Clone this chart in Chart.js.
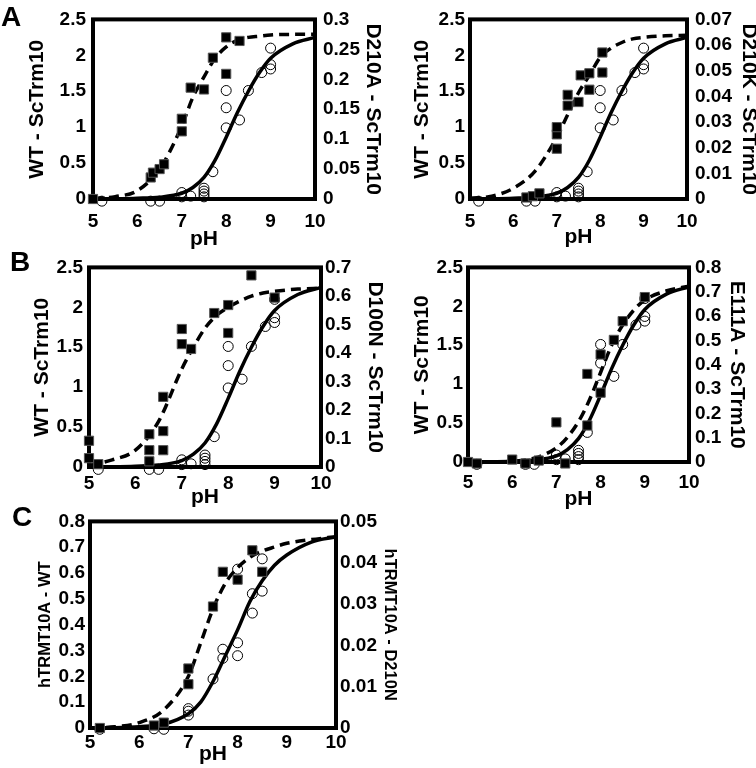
<!DOCTYPE html>
<html>
<head>
<meta charset="utf-8">
<script src="https://cdn.jsdelivr.net/npm/chart.js@4.4.0/dist/chart.umd.min.js"></script>
<style>
  html, body { margin: 0; padding: 0; background: #fff; overflow: hidden; }
  #fig { position: relative; width: 756px; height: 768px; }
  canvas { position: absolute; }
  .tag { position: absolute; font: bold 28px "Liberation Sans", Arial, sans-serif; line-height: 28px; color: #000; }
</style>
</head>
<body>
<div id="fig">
  <canvas id="pA"  width="385" height="252" style="left:0;top:0"></canvas>
  <canvas id="pA2" width="371" height="252" style="left:385px;top:0"></canvas>
  <canvas id="pB"  width="385" height="262" style="left:0;top:250px"></canvas>
  <canvas id="pB2" width="371" height="262" style="left:385px;top:250px"></canvas>
  <canvas id="pC"  width="420" height="263" style="left:0;top:505px"></canvas>
  <div class="tag" style="left:1px;top:3px">A</div>
  <div class="tag" style="left:10px;top:248px">B</div>
  <div class="tag" style="left:12px;top:503px">C</div>
</div>
<script>
// x axis
const phTicks = [5, 6, 7, 8, 9, 10];

// WT ScTrm10 (open circles, left axis) - same points in A, A2, B, B2
const wtPH   = [5.2, 6.3, 6.5, 7.0, 7.0, 7.2, 7.5, 7.5, 7.5, 7.5, 7.7, 8.0, 8.0, 8.0, 8.3, 8.5, 8.8, 9.0, 9.0, 9.0];
const wtRate = [-0.03, -0.03, -0.03, 0.09, 0.03, 0.04, 0.15, 0.11, 0.07, 0.03, 0.38, 1.51, 1.27, 0.99, 1.1, 1.51, 1.76, 2.1, 1.87, 1.81];
const wtTicks = [0, 0.5, 1, 1.5, 2, 2.5];

// mutants (filled squares, right axis)
const d210aPH   = [5.0, 6.3, 6.35, 6.5, 6.6, 7.0, 7.0, 7.2, 7.5, 7.7, 8.0, 8.0, 8.3];
const d210aRate = [0, 0.036, 0.044, 0.05, 0.058, 0.134, 0.113, 0.186, 0.183, 0.236, 0.209, 0.27, 0.264];
const d210aTicks = [0, 0.05, 0.1, 0.15, 0.2, 0.25, 0.3];

const d210kPH   = [6.3, 6.45, 6.6, 7.0, 7.0, 7.0, 7.25, 7.25, 7.5, 7.55, 7.75, 7.75, 8.05, 8.05];
const d210kRate = [0.0006, 0.0011, 0.0022, 0.0196, 0.0252, 0.028, 0.0364, 0.0406, 0.0378, 0.0482, 0.0426, 0.049, 0.0493, 0.0571];
const d210kTicks = [0, 0.01, 0.02, 0.03, 0.04, 0.05, 0.06, 0.07];

const d100nPH   = [5.0, 5.0, 5.2, 6.3, 6.3, 6.3, 6.6, 6.6, 6.6, 7.0, 7.0, 7.2, 7.7, 8.0, 8.0, 8.5, 9.0];
const d100nRate = [0.092, 0.031, 0.01, 0.115, 0.059, 0.02, 0.246, 0.126, 0.059, 0.484, 0.431, 0.414, 0.54, 0.568, 0.47, 0.672, 0.594];
const d100nTicks = [0, 0.1, 0.2, 0.3, 0.4, 0.5, 0.6, 0.7];

const e111aPH   = [5.0, 5.2, 6.0, 6.3, 6.6, 7.0, 7.2, 7.7, 7.7, 8.0, 8.0, 8.3, 8.5, 9.0];
const e111aRate = [0, -0.006, 0.01, -0.006, 0.006, 0.163, -0.006, 0.362, 0.15, 0.442, 0.285, 0.502, 0.579, 0.678];
const e111aTicks = [0, 0.1, 0.2, 0.3, 0.4, 0.5, 0.6, 0.7, 0.8];

// hTRMT10A (panel C)
const hWtPH   = [5.2, 6.3, 6.5, 7.0, 7.0, 7.0, 7.5, 7.7, 7.7, 8.0, 8.0, 8.0, 8.3, 8.3, 8.5, 8.5];
const hWtRate = [-0.005, -0.003, -0.005, 0.075, 0.065, 0.05, 0.19, 0.305, 0.27, 0.615, 0.33, 0.28, 0.52, 0.445, 0.655, 0.53];
const hWtTicks = [0, 0.1, 0.2, 0.3, 0.4, 0.5, 0.6, 0.7, 0.8];

const hD210nPH   = [5.2, 6.3, 6.5, 7.0, 7.0, 7.5, 7.7, 8.0, 8.3, 8.5];
const hD210nRate = [0, 0.0006, 0.0013, 0.0144, 0.0106, 0.0294, 0.0378, 0.0359, 0.043, 0.0378];
const hD210nTicks = [0, 0.01, 0.02, 0.03, 0.04, 0.05];

// fitted curves
const fitPH     = [5, 5.5, 6, 6.5, 7, 7.25, 7.5, 7.75, 8, 8.25, 8.5, 8.75, 9, 9.5, 10];
const wtFit     = [0, 0.003, 0.01, 0.025, 0.08, 0.16, 0.3, 0.54, 0.86, 1.2, 1.5, 1.76, 1.96, 2.16, 2.25];
const d210aFit  = [0.001, 0.004, 0.014, 0.05, 0.122, 0.17, 0.204, 0.235, 0.254, 0.265, 0.27, 0.272, 0.274, 0.275, 0.275];
const d210kFit  = [0.0003, 0.0011, 0.0042, 0.0109, 0.0241, 0.0328, 0.0414, 0.0482, 0.0552, 0.0588, 0.061, 0.0624, 0.063, 0.0636, 0.0638];
const d100nFit  = [0.006, 0.025, 0.059, 0.16, 0.344, 0.42, 0.487, 0.532, 0.56, 0.582, 0.599, 0.61, 0.616, 0.624, 0.627];
const e111aFit  = [0, 0, 0.003, 0.016, 0.058, 0.102, 0.166, 0.256, 0.368, 0.48, 0.563, 0.624, 0.666, 0.704, 0.723];
const hWtFit    = [0, 0.001, 0.005, 0.015, 0.055, 0.1, 0.18, 0.28, 0.38, 0.49, 0.57, 0.63, 0.67, 0.72, 0.74];
const hD210nFit = [0, 0.0003, 0.0013, 0.0044, 0.0125, 0.0206, 0.0288, 0.035, 0.0388, 0.0413, 0.0428, 0.0438, 0.0447, 0.0456, 0.0463];

const FAMILY = '"Liberation Sans", Arial, sans-serif';

function pairs(xs, ys) {
    return xs.map((x, i) => ({ x: x, y: ys[i] }));
}

// thick black box round the plot area
const boxFrame = {
    id: 'boxFrame',
    beforeDatasetsDraw(chart) {
        const a = chart.chartArea;
        const c = chart.ctx;
        c.save();
        c.lineWidth = 4;
        c.strokeStyle = '#000';
        c.strokeRect(a.left, a.top, a.right - a.left, a.bottom - a.top);
        c.restore();
    }
};

function drawPanel(id, p) {
    const tickFont = { family: FAMILY, size: 19, weight: 'bold' };
    const titleFont = { family: FAMILY, size: p.titleSize || 21, weight: 'bold', lineHeight: 1.2 };
    const fixTicks = vals => scale => { scale.ticks = vals.map(v => ({ value: v })); };

    new Chart(document.getElementById(id), {
        type: 'scatter',
        data: {
            datasets: [
                { data: pairs(p.mutPH, p.mutRate), yAxisID: 'y2', pointStyle: 'rect', pointRadius: 6.5,
                  backgroundColor: '#000', borderColor: '#555', borderWidth: 1, clip: false },
                { data: pairs(p.wtPH, p.wtRate), yAxisID: 'y', pointStyle: 'circle', pointRadius: 5,
                  backgroundColor: 'rgba(0,0,0,0)', borderColor: '#000', borderWidth: 1, clip: false },
                { data: pairs(fitPH, p.mutFit), yAxisID: 'y2', showLine: true, pointRadius: 0,
                  borderColor: '#000', borderWidth: 3.5, borderDash: [10, 6], cubicInterpolationMode: 'monotone', clip: false },
                { data: pairs(fitPH, p.wtFit), yAxisID: 'y', showLine: true, pointRadius: 0,
                  borderColor: '#000', borderWidth: 3.5, cubicInterpolationMode: 'monotone', clip: false }
            ]
        },
        options: {
            responsive: false,
            animation: false,
            devicePixelRatio: 1,
            events: [],
            layout: { padding: { top: p.top, left: 0, right: 0, bottom: 0 } },
            plugins: { legend: { display: false }, tooltip: { enabled: false } },
            scales: {
                x: {
                    type: 'linear', min: 5, max: 10,
                    afterBuildTicks: fixTicks(phTicks),
                    afterFit: s => { s.height = p.bottom; },
                    grid: { display: false, drawTicks: false }, border: { display: false },
                    ticks: { autoSkip: false, maxRotation: 0, padding: p.xPad, color: '#000', font: tickFont,
                             callback: v => String(v) },
                    title: { display: true, text: 'pH', color: '#000',
                             font: { family: FAMILY, size: 21, weight: 'bold', lineHeight: 1.2 },
                             padding: { top: 0, bottom: p.phPad } }
                },
                y: {
                    position: 'left', min: 0, max: p.yMax,
                    afterBuildTicks: fixTicks(p.yTicks),
                    afterFit: s => { s.width = p.left; },
                    grid: { display: false, drawTicks: false }, border: { display: false },
                    ticks: { autoSkip: false, padding: p.yPad, color: '#000', font: tickFont,
                             callback: v => String(v) },
                    title: { display: true, text: p.leftTitle, color: '#000', font: titleFont,
                             padding: { top: p.leftTitlePad, bottom: 0 } }
                },
                y2: {
                    position: 'right', min: 0, max: p.y2Max,
                    afterBuildTicks: fixTicks(p.y2Ticks),
                    afterFit: s => { s.width = p.right; },
                    grid: { display: false, drawTicks: false }, border: { display: false },
                    ticks: { autoSkip: false, padding: p.y2Pad, color: '#000', font: tickFont,
                             callback: v => String(v) },
                    title: { display: true, text: p.rightTitle, color: '#000', font: titleFont,
                             padding: { top: p.rightTitlePad, bottom: 0 } }
                }
            }
        },
        plugins: [boxFrame]
    });
}

drawPanel('pA', {
    wtPH: wtPH, wtRate: wtRate, wtFit: wtFit, mutPH: d210aPH, mutRate: d210aRate, mutFit: d210aFit,
    yMax: 2.5, yTicks: wtTicks, y2Max: 0.3, y2Ticks: d210aTicks,
    leftTitle: 'WT - ScTrm10', rightTitle: 'D210A - ScTrm10',
    top: 14, left: 93, right: 70, bottom: 53,
    xPad: 11, yPad: 7, y2Pad: 8, phPad: 0, leftTitlePad: 25, rightTitlePad: 0
});

drawPanel('pA2', {
    wtPH: wtPH, wtRate: wtRate, wtFit: wtFit, mutPH: d210kPH, mutRate: d210kRate, mutFit: d210kFit,
    yMax: 2.5, yTicks: wtTicks, y2Max: 0.07, y2Ticks: d210kTicks,
    leftTitle: 'WT - ScTrm10', rightTitle: 'D210K - ScTrm10',
    top: 14, left: 85, right: 69, bottom: 53,
    xPad: 11, yPad: 5, y2Pad: 8, phPad: 2, leftTitlePad: 25, rightTitlePad: -5
});

drawPanel('pB', {
    wtPH: wtPH, wtRate: wtRate, wtFit: wtFit, mutPH: d100nPH, mutRate: d100nRate, mutFit: d100nFit,
    yMax: 2.5, yTicks: wtTicks, y2Max: 0.7, y2Ticks: d100nTicks,
    leftTitle: 'WT - ScTrm10', rightTitle: 'D100N - ScTrm10',
    top: 12, left: 89, right: 64, bottom: 45,
    xPad: 5, yPad: 6, y2Pad: 4, phPad: 2, leftTitlePad: 30, rightTitlePad: -2
});

drawPanel('pB2', {
    wtPH: wtPH, wtRate: wtRate, wtFit: wtFit, mutPH: e111aPH, mutRate: e111aRate, mutFit: e111aFit,
    yMax: 2.5, yTicks: wtTicks, y2Max: 0.8, y2Ticks: e111aTicks,
    leftTitle: 'WT - ScTrm10', rightTitle: 'E111A - ScTrm10',
    top: 13, left: 83, right: 67, bottom: 50,
    xPad: 9, yPad: 5, y2Pad: 6, phPad: 0, leftTitlePad: 25, rightTitlePad: 7
});

drawPanel('pC', {
    wtPH: hWtPH, wtRate: hWtRate, wtFit: hWtFit, mutPH: hD210nPH, mutRate: hD210nRate, mutFit: hD210nFit,
    yMax: 0.8, yTicks: hWtTicks, y2Max: 0.05, y2Ticks: hD210nTicks,
    leftTitle: 'hTRMT10A - WT', rightTitle: 'hTRMT10A - D210N',
    titleSize: 16.5,
    top: 14, left: 90, right: 84, bottom: 40,
    xPad: 3, yPad: 5, y2Pad: 4, phPad: 1, leftTitlePad: 36, rightTitlePad: 21
});
</script>
</body>
</html>
